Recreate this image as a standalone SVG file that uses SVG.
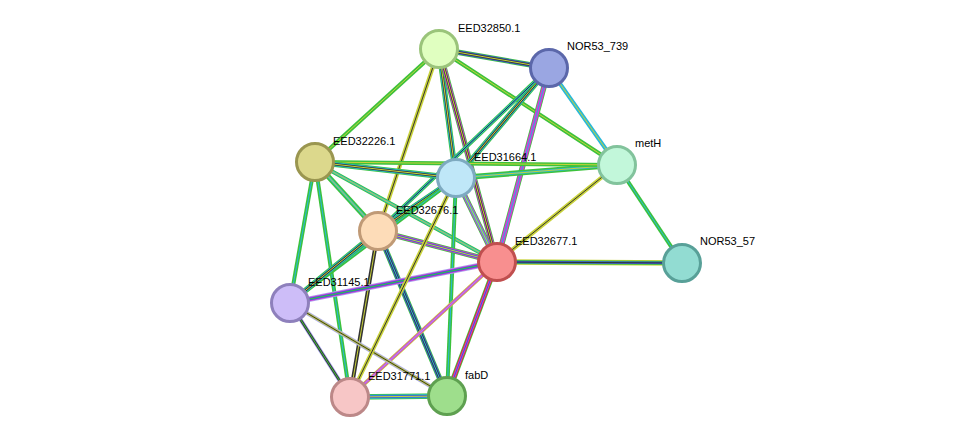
<svg xmlns="http://www.w3.org/2000/svg" xmlns:xlink="http://www.w3.org/1999/xlink" width="976" height="443" viewBox="0 0 976 443">
<style>
.n{stroke-width:3}
text{font-family:"Liberation Sans",Arial,sans-serif;font-size:11px;fill:#000}
use{fill:none}
.a{stroke-width:5.5}.b{stroke-width:4}.c{stroke-width:2.4}.d{stroke-width:1}
.G{stroke:#3cc23c}.Y{stroke:#c8d23a}.K{stroke:#333}.B{stroke:#3b5bd8}.C{stroke:#29b8d8}.P{stroke:#d63ad6}.L{stroke:#a8a8f0}.R{stroke:#e03030}
</style>
<defs>
<path id="e1" d="M439 49L549 68"/><path id="e2" d="M439 49L617 165"/><path id="e3" d="M439 49L315 162"/><path id="e4" d="M439 49L456 178"/><path id="e5" d="M439 49L378 231"/><path id="e6" d="M439 49L497 262"/>
<path id="e7" d="M549 68L456 178"/><path id="e8" d="M549 68L378 231"/><path id="e9" d="M549 68L497 262"/><path id="e10" d="M549 68L617 165"/>
<path id="e11" d="M617 165L456 178"/><path id="e12" d="M617 165L315 162"/><path id="e13" d="M617 165L497 262"/><path id="e14" d="M617 165L682 263"/><path id="e15" d="M497 262L682 263"/>
<path id="e16" d="M315 162L456 178"/><path id="e17" d="M315 162L378 231"/><path id="e18" d="M315 162L497 262"/><path id="e19" d="M315 162L290 303"/><path id="e20" d="M315 162L350 397"/>
<path id="e21" d="M456 178L378 231"/><path id="e22" d="M456 178L497 262"/><path id="e23" d="M456 178L447 396"/><path id="e24" d="M456 178L290 303"/>
<path id="e25" d="M378 231L497 262"/><path id="e26" d="M378 231L290 303"/><path id="e27" d="M378 231L350 397"/><path id="e28" d="M378 231L447 396"/>
<path id="e29" d="M497 262L290 303"/><path id="e30" d="M497 262L350 397"/><path id="e31" d="M497 262L447 396"/>
<path id="e32" d="M290 303L350 397"/><path id="e33" d="M290 303L447 396"/><path id="e34" d="M350 397L447 396"/><path id="e35" d="M456 178L350 397"/>
</defs>
<g id="connectors">
<use xlink:href="#e1" class="a G"/><use xlink:href="#e1" class="b B"/><use xlink:href="#e1" class="c K"/><use xlink:href="#e1" class="d Y"/>
<use xlink:href="#e2" class="b G"/><use xlink:href="#e2" class="d Y"/>
<use xlink:href="#e3" class="b G"/><use xlink:href="#e3" class="d Y"/>
<use xlink:href="#e4" class="a G"/><use xlink:href="#e4" class="b C"/><use xlink:href="#e4" class="c K"/><use xlink:href="#e4" class="d Y"/>
<use xlink:href="#e5" class="b Y"/><use xlink:href="#e5" class="d K"/>
<use xlink:href="#e6" class="a G"/><use xlink:href="#e6" class="b P"/><use xlink:href="#e6" class="c K"/><use xlink:href="#e6" class="d Y"/>
<use xlink:href="#e7" class="a G"/><use xlink:href="#e7" class="b C"/><use xlink:href="#e7" class="c K"/><use xlink:href="#e7" class="d Y"/>
<use xlink:href="#e8" class="b G"/><use xlink:href="#e8" class="c C"/><use xlink:href="#e8" class="d K"/>
<use xlink:href="#e9" class="a G"/><use xlink:href="#e9" class="b P"/><use xlink:href="#e9" class="d C"/>
<use xlink:href="#e10" class="b C"/><use xlink:href="#e10" class="d Y"/>
<use xlink:href="#e11" class="a G"/><use xlink:href="#e11" class="c C"/><use xlink:href="#e11" class="d Y"/>
<use xlink:href="#e12" class="b G"/><use xlink:href="#e12" class="d Y"/>
<use xlink:href="#e13" class="b Y"/><use xlink:href="#e13" class="d K"/>
<use xlink:href="#e14" class="b G"/><use xlink:href="#e14" class="d C"/>
<use xlink:href="#e15" class="a Y"/><use xlink:href="#e15" class="b G"/><use xlink:href="#e15" class="c B"/><use xlink:href="#e15" class="d K"/>
<use xlink:href="#e16" class="a G"/><use xlink:href="#e16" class="b C"/><use xlink:href="#e16" class="c K"/><use xlink:href="#e16" class="d Y"/>
<use xlink:href="#e17" class="a G"/><use xlink:href="#e17" class="c C"/><use xlink:href="#e17" class="d Y"/>
<use xlink:href="#e18" class="b G"/><use xlink:href="#e18" class="c C"/><use xlink:href="#e18" class="d Y"/>
<use xlink:href="#e19" class="b G"/><use xlink:href="#e19" class="d C"/>
<use xlink:href="#e20" class="b G"/><use xlink:href="#e20" class="d C"/>
<use xlink:href="#e21" class="a G"/><use xlink:href="#e21" class="b C"/><use xlink:href="#e21" class="c K"/><use xlink:href="#e21" class="d Y"/>
<use xlink:href="#e22" class="a G"/><use xlink:href="#e22" class="b P"/><use xlink:href="#e22" class="c C"/><use xlink:href="#e22" class="d Y"/>
<use xlink:href="#e23" class="b G"/><use xlink:href="#e23" class="d C"/>
<use xlink:href="#e24" class="b G"/><use xlink:href="#e24" class="d C"/>
<use xlink:href="#e25" class="a G"/><use xlink:href="#e25" class="b P"/><use xlink:href="#e25" class="c B"/><use xlink:href="#e25" class="d Y"/>
<use xlink:href="#e26" class="a G"/><use xlink:href="#e26" class="b C"/><use xlink:href="#e26" class="c K"/><use xlink:href="#e26" class="d Y"/>
<use xlink:href="#e27" class="b K"/><use xlink:href="#e27" class="d Y"/>
<use xlink:href="#e28" class="a G"/><use xlink:href="#e28" class="b B"/><use xlink:href="#e28" class="c K"/><use xlink:href="#e28" class="d C"/>
<use xlink:href="#e29" class="a L"/><use xlink:href="#e29" class="b P"/><use xlink:href="#e29" class="c B"/><use xlink:href="#e29" class="d G"/>
<use xlink:href="#e30" class="b Y"/><use xlink:href="#e30" class="c P"/><use xlink:href="#e30" class="d L"/>
<use xlink:href="#e31" class="a G"/><use xlink:href="#e31" class="b R"/><use xlink:href="#e31" class="c P"/><use xlink:href="#e31" class="d B"/>
<use xlink:href="#e32" class="b L"/><use xlink:href="#e32" class="c K"/><use xlink:href="#e32" class="d G"/>
<use xlink:href="#e33" class="b L"/><use xlink:href="#e33" class="c Y"/><use xlink:href="#e33" class="d K"/>
<use xlink:href="#e34" class="a G"/><use xlink:href="#e34" class="b C"/><use xlink:href="#e34" class="c B"/><use xlink:href="#e34" class="d Y"/>
<use xlink:href="#e35" class="b Y"/><use xlink:href="#e35" class="d K"/>
</g>
<g id="EED32850.1"><circle class="n" cx="439" cy="49" r="18.5" fill="#e0ffc0" stroke="#9ac47a"/><text x="458" y="32">EED32850.1</text></g>
<g id="NOR53_739"><circle class="n" cx="549" cy="68" r="18.5" fill="#9aa6e2" stroke="#5b67aa"/><text x="567" y="50">NOR53_739</text></g>
<g id="metH"><circle class="n" cx="617" cy="165" r="18.5" fill="#c2f7da" stroke="#82c39c"/><text x="635" y="147">metH</text></g>
<g id="EED32226.1"><circle class="n" cx="315" cy="162" r="18.5" fill="#dcd88c" stroke="#9a9650"/><text x="333" y="145">EED32226.1</text></g>
<g id="EED31664.1"><circle class="n" cx="456" cy="178" r="18.5" fill="#bfe7f8" stroke="#7eaac0"/><text x="474" y="161">EED31664.1</text></g>
<g id="EED32676.1"><circle class="n" cx="378" cy="231" r="18.5" fill="#fddcb8" stroke="#c09a76"/><text x="396" y="214">EED32676.1</text></g>
<g id="EED32677.1"><circle class="n" cx="497" cy="262" r="18.5" fill="#f88f8f" stroke="#c04f4f"/><text x="515" y="245">EED32677.1</text></g>
<g id="NOR53_57"><circle class="n" cx="682" cy="263" r="18.5" fill="#92dcd2" stroke="#58a098"/><text x="700" y="245">NOR53_57</text></g>
<g id="EED31145.1"><circle class="n" cx="290" cy="303" r="18.5" fill="#cdbdf8" stroke="#8e80bc"/><text x="308" y="286">EED31145.1</text></g>
<g id="EED31771.1"><circle class="n" cx="350" cy="397" r="18.5" fill="#f7c6c6" stroke="#bc8888"/><text x="368" y="380">EED31771.1</text></g>
<g id="fabD"><circle class="n" cx="447" cy="396" r="18.5" fill="#9ede8c" stroke="#5ea050"/><text x="465" y="379">fabD</text></g>
</svg>
